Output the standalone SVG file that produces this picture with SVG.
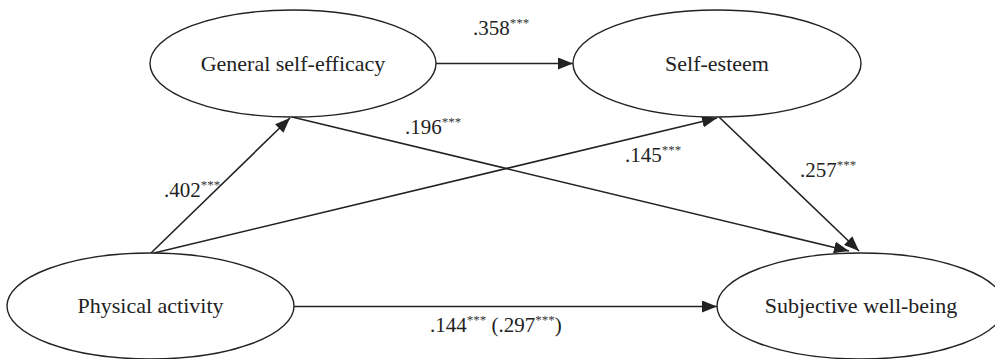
<svg xmlns="http://www.w3.org/2000/svg" width="995" height="359" viewBox="0 0 995 359">
<style>
.node{fill:#fff;stroke:#222;stroke-width:1.4}
text{font-family:'Liberation Serif','Times New Roman','DejaVu Serif',serif;fill:#222}
.lbl{font-size:22px;text-anchor:middle}
.num{font-size:21px}
.sup{font-size:13px;fill:#333}
.edge{stroke:#222;stroke-width:1.6;fill:none;marker-end:url(#ah)}
</style>
<defs>
<marker id="ah" markerUnits="userSpaceOnUse" markerWidth="16" markerHeight="12" refX="15" refY="6" orient="auto">
<path d="M0,0 L15,6 L0,12 z" fill="#222"/>
</marker>
</defs>
<rect width="995" height="359" fill="#fff"/>
<g id="connectors">
<line class="edge" x1="436" y1="63.5" x2="573" y2="63.5"/>
<line class="edge" x1="151" y1="253" x2="290" y2="118"/>
<line class="edge" x1="154" y1="253" x2="717" y2="118"/>
<line class="edge" x1="292" y1="117" x2="849" y2="251"/>
<line class="edge" x1="719" y1="117" x2="859" y2="251"/>
<line class="edge" x1="294" y1="306.5" x2="717" y2="306.5"/>
</g>
<g id="n-gse">
<ellipse class="node" cx="293" cy="63.5" rx="143" ry="53.5"/>
<text class="lbl" x="293" y="71" font-family="Liberation Serif, serif">General self-efficacy</text>
</g>
<g id="n-se">
<ellipse class="node" cx="717" cy="63.5" rx="144" ry="53.5"/>
<text class="lbl" x="717" y="71" font-family="Liberation Serif, serif">Self-esteem</text>
</g>
<g id="n-pa">
<ellipse class="node" cx="150.5" cy="306" rx="143.5" ry="53"/>
<text class="lbl" x="150.5" y="313" font-family="Liberation Serif, serif">Physical activity</text>
</g>
<g id="n-swb">
<ellipse class="node" cx="861" cy="306" rx="144" ry="53"/>
<text class="lbl" x="861" y="313" font-family="Liberation Serif, serif">Subjective well-being</text>
</g>
<g id="labels">
<text class="num" x="473" y="35">.358<tspan class="sup" dy="-8">***</tspan></text>
<text class="num" x="405" y="134">.196<tspan class="sup" dy="-8">***</tspan></text>
<text class="num" x="164" y="197">.402<tspan class="sup" dy="-8">***</tspan></text>
<text class="num" x="625" y="162">.145<tspan class="sup" dy="-8">***</tspan></text>
<text class="num" x="800" y="177">.257<tspan class="sup" dy="-8">***</tspan></text>
<text class="num" x="430" y="332">.144<tspan class="sup" dy="-8">***</tspan><tspan dy="8">  (.297</tspan><tspan class="sup" dy="-8">***</tspan><tspan dy="8">)</tspan></text>
</g>
</svg>
